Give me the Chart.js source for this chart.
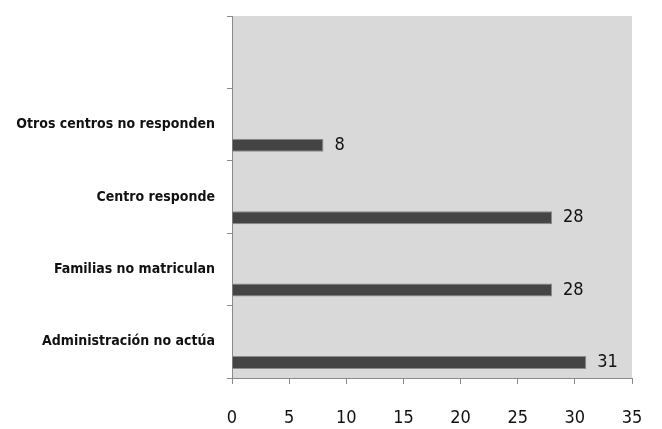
<!DOCTYPE html>
<html>
<head>
<meta charset="utf-8">
<script src="https://cdn.jsdelivr.net/npm/chart.js@4/dist/chart.umd.min.js"></script>
<style>
  html, body { margin: 0; padding: 0; background: #fff; }
  #wrap { width: 662px; height: 429px; }
</style>
</head>
<body>
<div id="wrap"><canvas id="myBarChart" width="662" height="429"></canvas></div>
<script>
// categories, top to bottom (the first band is empty in the original)
const categories = ['', 'Otros centros no responden', 'Centro responde', 'Familias no matriculan', 'Administración no actúa'];
const counts = [null, 8, 28, 28, 31];
const spacer = [null, null, null, null, null];
const xTicks = [0, 5, 10, 15, 20, 25, 30, 35];

const FONT = "'DejaVu Sans Condensed', 'Liberation Sans Narrow', 'Liberation Sans', sans-serif";

// grey plot area
const plotBg = {
    id: 'plotBg',
    beforeDraw(chart) {
        const a = chart.chartArea;
        const ctx = chart.ctx;
        ctx.save();
        ctx.fillStyle = '#d9d9d9';
        ctx.fillRect(a.left, a.top, a.right - a.left, a.bottom - a.top);
        ctx.restore();
    }
};

// value next to the end of each bar
const valueLabels = {
    id: 'valueLabels',
    afterDatasetsDraw(chart) {
        const ctx = chart.ctx;
        const meta = chart.getDatasetMeta(1);
        ctx.save();
        ctx.font = '18px ' + FONT;
        ctx.fillStyle = '#111';
        ctx.textBaseline = 'middle';
        ctx.textAlign = 'left';
        meta.data.forEach((bar, i) => {
            if (counts[i] === null) return;
            ctx.fillText(String(counts[i]), bar.x + 11, bar.y);
        });
        ctx.restore();
    }
};

const ctx = document.getElementById('myBarChart').getContext('2d');

const myBarChart = new Chart(ctx, {
    type: 'bar',
    data: {
        labels: categories,
        datasets: [
            { data: spacer, backgroundColor: 'rgba(0,0,0,0)' },
            {
                data: counts,
                backgroundColor: '#444444',
                borderColor: '#8a8a8a',
                borderWidth: 1
            }
        ]
    },
    options: {
        indexAxis: 'y',
        responsive: false,
        animation: false,
        datasets: {
            bar: { categoryPercentage: 1.14, barPercentage: 0.315 }
        },
        layout: { padding: { top: 16, right: 30, left: 0, bottom: 0 } },
        plugins: {
            legend: { display: false },
            tooltip: { enabled: false }
        },
        scales: {
            x: {
                min: 0,
                max: 35,
                afterBuildTicks(scale) {
                    scale.ticks = xTicks.map(v => ({ value: v }));
                },
                afterFit(scale) {
                    scale.height = 51;
                    scale.paddingLeft = 0;
                    scale.paddingRight = 0;
                },
                grid: {
                    drawOnChartArea: false,
                    drawTicks: true,
                    tickLength: 6,
                    color: '#8a8a8a'
                },
                border: { display: true, color: '#8a8a8a', width: 1 },
                ticks: {
                    color: '#111',
                    padding: 24,
                    maxRotation: 0,
                    font: { family: FONT, size: 18 }
                }
            },
            y: {
                afterFit(scale) {
                    scale.width = 232;
                    scale.paddingTop = 0;
                    scale.paddingBottom = 0;
                },
                grid: {
                    offset: true,
                    drawOnChartArea: false,
                    drawTicks: true,
                    tickLength: 5,
                    color: '#8a8a8a'
                },
                border: { display: true, color: '#8a8a8a', width: 1 },
                ticks: {
                    color: '#111',
                    padding: 12,
                    font: { family: FONT, size: 14, weight: 'bold' }
                }
            }
        }
    },
    plugins: [plotBg, valueLabels]
});
</script>
</body>
</html>
